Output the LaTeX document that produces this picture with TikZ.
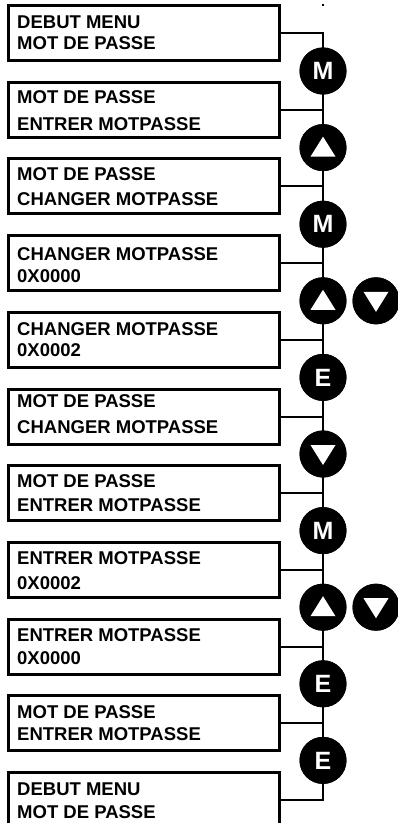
\documentclass[tikz,border=0pt]{standalone}
\usepackage{fontspec}
\setmainfont{Liberation Sans}
\newcommand\panel[5]{%
  \pgfmathsetmacro\PT{4+76.7*(#1-1)}%
  \node[panelbox] (b#1) at (144.2,\PT+29) {};
  \node[paneltext] (t#1a) at (17,\PT+#4) {#2};
  \node[paneltext] (t#1b) at (17,\PT+#5) {#3};
}
\newcommand\keycirc[3]{%
  \pgfmathsetmacro\PC{71+76.6*(#1-1)}%
  \node[keyc] (#3) at (#2,\PC) {};
}
\newcommand\keylabel[2]{\node[keytext] at (#1.center) {#2};}
\newcommand\uptri[1]{\fill[white,shift={(#1.center)}] (0,-11) -- (12.5,9) -- (-12.5,9) -- cycle;}
\newcommand\downtri[1]{\fill[white,shift={(#1.center)}] (0,11) -- (12.5,-9) -- (-12.5,-9) -- cycle;}
\begin{document}
\begin{tikzpicture}[x=1pt,y=-1pt,
  panelbox/.style={draw=black,line width=3pt,minimum width=271pt,minimum height=55pt,inner sep=0pt},
  paneltext/.style={anchor=base west,inner sep=0pt,font=\fontsize{18.5}{21}\selectfont\bfseries},
  keyc/.style={circle,fill=black,minimum size=47pt,inner sep=0pt},
  keytext/.style={text=white,inner sep=0pt,font=\fontsize{25}{25}\selectfont\bfseries},
  conn/.style={line width=2pt}]
\useasboundingbox (0,0) rectangle (398,823);
\clip (0,0) rectangle (398,823);
\fill[white] (0,0) rectangle (398,823);
\panel{1}{DEBUT MENU}{MOT DE PASSE}{24}{45}
\panel{2}{MOT DE PASSE}{ENTRER MOTPASSE}{23}{50}
\panel{3}{MOT DE PASSE}{CHANGER MOTPASSE}{23}{48}
\panel{4}{CHANGER MOTPASSE}{0X0000}{26}{48}
\panel{5}{CHANGER MOTPASSE}{0X0002}{25}{46}
\panel{6}{MOT DE PASSE}{CHANGER MOTPASSE}{20}{46}
\panel{7}{MOT DE PASSE}{ENTRER MOTPASSE}{23}{47}
\panel{8}{ENTRER MOTPASSE}{0X0002}{24}{49}
\panel{9}{ENTRER MOTPASSE}{0X0000}{24}{47}
\panel{10}{MOT DE PASSE}{ENTRER MOTPASSE}{24}{46}
\panel{11}{DEBUT MENU}{MOT DE PASSE}{24}{47}
% key circles (placed first as coordinates for connectors)
\foreach \k in {1,...,10}{\keycirc{\k}{323}{c\k}}
\keycirc{4}{376}{c4r}
\keycirc{8}{376}{c8r}
% connectors
\draw[conn] (b1.east) -| (c1.center);
\foreach \k [evaluate=\k as \j using int(\k-1)] in {2,...,10}{
  \draw[conn] (b\k.east) -- (b\k.east -| c\k.center);
  \draw[conn] (c\j.center) -- (c\k.center);
}
\draw[conn] (c10.center) |- (b11.east);
% redraw circles on top
\foreach \k in {1,...,10}{\keycirc{\k}{323}{c\k}}
\keycirc{4}{376}{c4r}
\keycirc{8}{376}{c8r}
\keylabel{c1}{M}
\uptri{c2}
\keylabel{c3}{M}
\uptri{c4}
\downtri{c4r}
\keylabel{c5}{E}
\downtri{c6}
\keylabel{c7}{M}
\uptri{c8}
\downtri{c8r}
\keylabel{c9}{E}
\keylabel{c10}{E}
\fill (322,3.5) rectangle (324,6);
\end{tikzpicture}
\end{document}
